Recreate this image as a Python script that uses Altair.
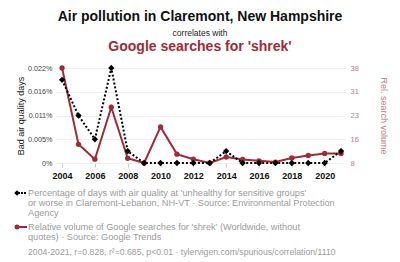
import altair as alt
import pandas as pd

years = list(range(2004, 2022))
air = [0.01918, 0.01096, 0.00548, 0.02192, 0.00274, 0, 0, 0, 0, 0,
       0.00274, 0, 0, 0, 0, 0, 0, 0.00274]
shrek = [38, 13.9, 9.2, 25.6, 9.5, 8, 19.4, 10.8, 9.2, 8,
         9.9, 9.1, 8.7, 8.3, 9.6, 10.4, 11, 11]

air_ticks = [0, 0.005479, 0.010959, 0.016438, 0.021918]
shrek_ticks = [8, 15.5, 23, 30.5, 38]
x_ticks = list(range(2004, 2021, 2))

title_main = "Air pollution in Claremont, New Hampshire"
title_mid = "correlates with"
title_red = "Google searches for 'shrek'"
legend_black = ["Percentage of days with air quality at 'unhealthy for sensitive groups'",
                "or worse in Claremont-Lebanon, NH-VT · Source: Environmental Protection",
                "Agency"]
legend_red = ["Relative volume of Google searches for 'shrek' (Worldwide, without",
              "quotes) · Source: Google Trends"]
footer = "2004-2021, r=0.828, r²=0.685, p<0.01 · tylervigen.com/spurious/correlation/1110"

RED = "#9e2b38"
RED_LIGHT = "#b77a86"
FONT = "Liberation Sans"

df = pd.DataFrame({"year": years, "air": air, "shrek": shrek})

x_enc = alt.X("year:Q",
              scale=alt.Scale(domain=[2003.57, 2021.24], nice=False, zero=False),
              axis=alt.Axis(values=x_ticks, format="d", title=None, grid=False,
                            domain=False, ticks=True, tickSize=4, tickColor="#cccccc",
                            labelFont=FONT, labelFontWeight="bold", labelFontSize=9,
                            labelColor="#111111", labelPadding=4))

y_left = alt.Y("air:Q",
               scale=alt.Scale(domain=[0, 0.021918], nice=False),
               axis=alt.Axis(orient="left", values=air_ticks,
                             labelExpr="datum.value == 0 ? '0%' : format(datum.value, '.3f') + '%'",
                             title="Bad air quality days", titleFont=FONT, titleFontSize=9,
                             titleFontWeight="normal", titleColor="#222222", titlePadding=2,
                             labelFont=FONT, labelFontSize=7.2, labelColor="#444444",
                             labelPadding=3, domain=False, ticks=False, grid=True,
                             gridColor="#efefef"))

y_right = alt.Y("shrek:Q",
                scale=alt.Scale(domain=[8, 38], nice=False, zero=False),
                axis=alt.Axis(orient="right", values=shrek_ticks,
                              labelExpr="round(datum.value)",
                              title="Rel. search volume", titleFont=FONT, titleFontSize=9,
                              titleFontWeight="normal", titleColor=RED_LIGHT, titlePadding=20,
                              labelFont=FONT, labelFontSize=7.5, labelColor=RED_LIGHT,
                              labelPadding=5, domain=False, ticks=False, grid=False))

base = alt.Chart(df)

red_layer = alt.layer(
    base.mark_line(color=RED, strokeWidth=2).encode(x=x_enc, y=y_right),
    base.mark_point(color=RED, filled=True, opacity=1, size=28, shape="circle").encode(x=x_enc, y=y_right),
)
black_layer = alt.layer(
    base.mark_line(color="#000000", strokeWidth=2, strokeDash=[2, 2]).encode(x=x_enc, y=y_left),
    base.mark_point(color="#000000", filled=True, opacity=1, size=40, shape="diamond").encode(x=x_enc, y=y_left),
)

one = alt.Data(values=[{"a": 1}])


def txt(t, x, y, size=9.2, color="#9a9a9a", weight="normal", align="left"):
    return alt.Chart(one).mark_text(text=t, font=FONT, fontSize=size, color=color,
                                    fontWeight=weight, align=align, baseline="middle").encode(
        x=alt.value(x), y=alt.value(y))


texts = [
    txt(title_main, 145, -51, size=14, color="#111111", weight="bold", align="center"),
    txt(title_mid, 145, -35, size=8.5, color="#222222", align="center"),
    txt(title_red, 145, -21, size=14, color=RED, weight="bold", align="center"),
]
ly = 125
for line in legend_black:
    texts.append(txt(line, -27, ly))
    ly += 10
ly = 159
for line in legend_red:
    texts.append(txt(line, -27, ly))
    ly += 10
texts.append(txt(footer, -27, 184, size=8.7))

sym = [
    alt.Chart(one).mark_rule(color="#000000", strokeWidth=2, strokeDash=[2, 1]).encode(
        x=alt.value(-40), x2=alt.value(-28), y=alt.value(125)),
    alt.Chart(one).mark_point(color="#000000", filled=True, opacity=1, size=30, shape="diamond").encode(
        x=alt.value(-38), y=alt.value(125)),
    alt.Chart(one).mark_rule(color=RED, strokeWidth=2).encode(
        x=alt.value(-40), x2=alt.value(-28), y=alt.value(159)),
    alt.Chart(one).mark_point(color=RED, filled=True, opacity=1, size=25, shape="circle").encode(
        x=alt.value(-38), y=alt.value(159)),
]

chart = alt.layer(red_layer, black_layer, *texts, *sym).resolve_scale(
    y="independent"
).properties(
    width=290, height=95,
    autosize=alt.AutoSizeParams(type="none"),
    padding={"left": 55, "top": 68, "right": 55, "bottom": 99},
    background="white",
).configure_view(stroke=None)

chart.save("out.html", embed_options={"renderer": "svg", "actions": False})
